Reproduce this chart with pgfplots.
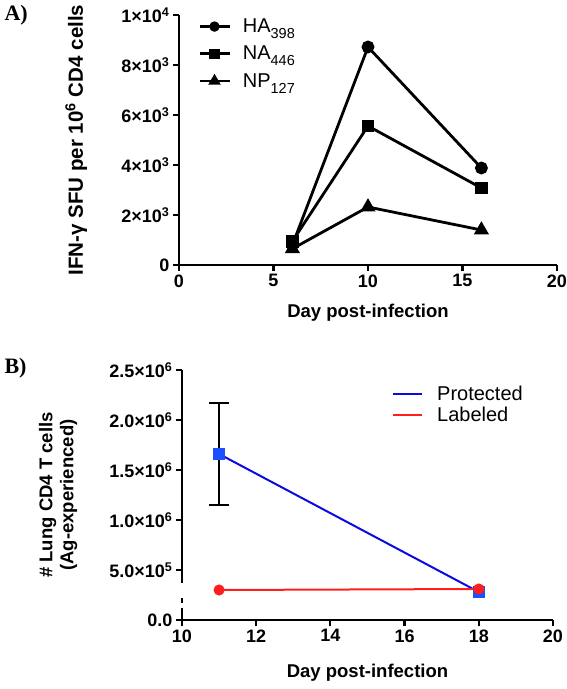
\documentclass[border=0pt]{standalone}
\usepackage{pgfplots}
\pgfplotsset{compat=1.18}
\usepackage{fontspec}
\setmainfont{Liberation Sans}
\newfontfamily\timesf{Liberation Serif}
\definecolor{pblue}{RGB}{10,10,225}
\definecolor{pbluem}{RGB}{25,80,255}
\definecolor{lred}{RGB}{255,30,30}
\newcommand{\lsub}[1]{\raisebox{-6pt}{\fontsize{14.5}{15}\selectfont #1}}
\begin{document}
\begin{tikzpicture}
\useasboundingbox (0pt,0pt) rectangle (566pt,689pt);
\node[font=\timesf\bfseries\fontsize{22}{24}\selectfont, anchor=west] at (1pt,674pt) {A)};
\node[font=\timesf\bfseries\fontsize{22}{24}\selectfont, anchor=west] at (1pt,321pt) {B)};
\pgfplotsset{
  gpstyle/.style={
    scale only axis,
    axis x line*=bottom, axis y line*=left,
    axis line style={line width=2.8pt, -},
    tick style={line width=2.2pt, black},
    major tick length=6pt,
    tick align=outside,
    ticklabel style={font=\bfseries\fontsize{18}{20}\selectfont},
    label style={font=\bfseries\fontsize{18.5}{21}\selectfont},
    scaled ticks=false,
    clip=false,
  }
}
\begin{axis}[gpstyle,
  at={(179pt,424pt)}, anchor=south west,
  width=378pt, height=250pt,
  xmin=0, xmax=20, ymin=0, ymax=10000,
  xtick={0,5,10,15,20}, xticklabels={0,5,10,15,20},
  ytick={0,2000,4000,6000,8000,10000},
  yticklabels={0,2×10\textsuperscript{3},4×10\textsuperscript{3},6×10\textsuperscript{3},8×10\textsuperscript{3},1×10\textsuperscript{4}},
  xlabel={Day post-infection},
  xlabel style={at={(axis description cs:0.5,-0.192)}, anchor=center},
  ylabel={IFN-γ SFU per 10\textsuperscript{6} CD4 cells},
  ylabel style={at={(axis description cs:-0.272,0.5)}, anchor=center, font=\bfseries\fontsize{20.5}{23}\selectfont},
  legend style={at={(axis description cs:0.05,0.985)}, anchor=north west, draw=none, fill=none,
    font=\fontsize{20}{22}\selectfont, row sep=12pt, column sep=12pt, inner sep=0pt, nodes={inner sep=0pt}},
  legend cell align=left,
  legend image code/.code={\draw[mark repeat=2,mark phase=2,#1, mark options={scale=0.75}] plot coordinates {(0pt,0pt)(15pt,0pt)(30pt,0pt)};},
]
\addplot[black, line width=2.8pt, mark=*, mark size=5pt, mark options={solid}] coordinates {(6,800) (10,8720) (16,3880)};
\addlegendentry{HA\lsub{398}}
\addplot[black, line width=2.8pt, mark=square*, mark size=5pt] coordinates {(6,950) (10,5560) (16,3080)};
\addlegendentry{NA\lsub{446}}
\addplot[black, line width=2.8pt, mark=triangle*, mark size=6pt] coordinates {(6,650) (10,2320) (16,1400)};
\addlegendentry{NP\lsub{127}}
\end{axis}

\begin{axis}[gpstyle,
  at={(182pt,69pt)}, anchor=south west,
  width=371pt, height=250pt,
  xmin=10, xmax=20, ymin=0, ymax=2500000,
  xtick={10,12,14,16,18,20}, xticklabels={10,12,14,16,18,20},
  ytick={0,500000,1000000,1500000,2000000,2500000},
  yticklabels={0.0,5.0×10\textsuperscript{5},1.0×10\textsuperscript{6},1.5×10\textsuperscript{6},2.0×10\textsuperscript{6},2.5×10\textsuperscript{6}},
  xlabel={Day post-infection},
  xlabel style={at={(axis description cs:0.5,-0.212)}, anchor=center},
  ylabel={\# Lung CD4 T cells\\(Ag-experienced)},
  ylabel style={at={(axis description cs:-0.334,0.5)}, anchor=center, align=center},
  legend style={at={(axis description cs:0.566,0.935)}, anchor=north west, draw=none, fill=none,
    font=\fontsize{20}{22}\selectfont, row sep=5pt, column sep=14pt, inner sep=0pt, nodes={inner sep=0pt}},
  legend cell align=left,
  legend image code/.code={\draw[#1] (0pt,0pt) -- (29pt,0pt);},
]
\addplot[draw=none, forget plot,
  error bars/.cd, y dir=both, y explicit,
  error bar style={black, line width=2pt},
  error mark options={rotate=90, mark size=10pt, line width=2pt, black}]
  coordinates {(11,1660000) +- (0,510000)};
\addplot[pblue, line width=2pt, mark=square*, mark size=5pt, mark options={fill=pbluem, draw=pbluem}]
  coordinates {(11,1660000) (18,280000)};
\addlegendentry{Protected}
\addplot[lred, line width=2pt, mark=*, mark size=4.5pt] coordinates {(11,300000) (18,310000)};
\addlegendentry{Labeled}
\coordinate (brkA) at (axis cs:10,370000);
\coordinate (brkB) at (axis cs:10,220000);
\coordinate (brkC) at (axis cs:10,170000);
\coordinate (brkD) at (axis cs:10,120000);
\end{axis}
\fill[white] ([xshift=-3pt]brkB) rectangle ([xshift=3pt]brkA);
\fill[white] ([xshift=-3pt]brkD) rectangle ([xshift=3pt]brkC);
\end{tikzpicture}
\end{document}
